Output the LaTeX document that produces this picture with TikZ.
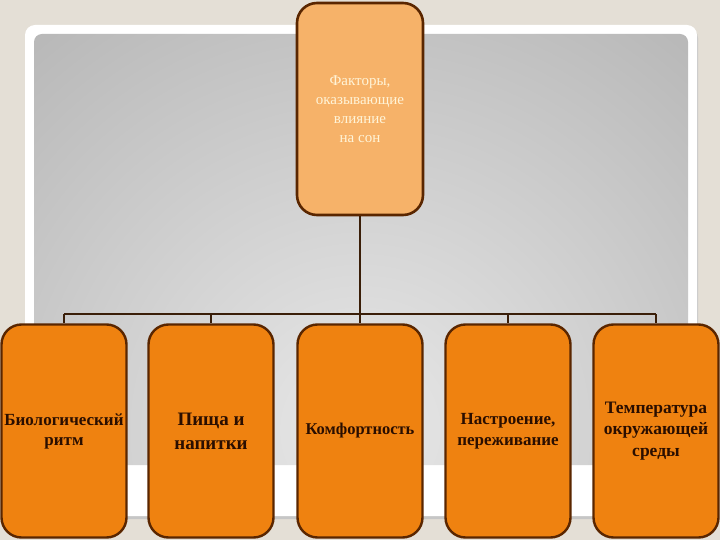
\documentclass[tikz,border=0pt]{standalone}
\usepackage{fontspec}
\setmainfont{Liberation Serif}
\begin{document}
\begin{tikzpicture}[x=1pt,y=-1pt,
  topbox/.style={draw=brownline, line width=2.6pt, fill=toporange, rounded corners=20pt,
    minimum width=126pt, minimum height=212pt, inner sep=0pt, align=center,
    text=creamtext, font=\fontsize{15}{19}\selectfont},
  leafbox/.style={draw=brownline, line width=2.4pt, fill=leaforange, rounded corners=20pt,
    minimum width=125pt, minimum height=213pt, inner sep=0pt, align=center,
    text=darktext},
  conn/.style={draw=connline, line width=1.8pt}]
\definecolor{bgbeige}{HTML}{E4DFD6}
\definecolor{brownline}{HTML}{5A2600}
\definecolor{toporange}{HTML}{F6B269}
\definecolor{leaforange}{HTML}{EF8210}
\definecolor{creamtext}{HTML}{FFF4D8}
\definecolor{darktext}{HTML}{2A0E00}
\definecolor{connline}{HTML}{3A1E08}
\definecolor{grayin}{HTML}{E8E8E8}
\definecolor{grayout}{HTML}{929292}
% background
\fill[bgbeige] (0,0) rectangle (720,540);
\useasboundingbox (0,0) rectangle (720,540);
\fill[gray!45] (26,28) [rounded corners=10pt] rectangle (698,519);
\fill[white, rounded corners=10pt] (25,25) rectangle (697,516);
\begin{scope}
  \clip[rounded corners=8pt] (34,34) rectangle (688,465);
  \shade[inner color=grayin, outer color=grayout] (360,430) circle (920);
\end{scope}
% top node
\node[topbox] (top) at (360,109) {Факторы,\\оказывающие\\влияние\\на сон};
% leaves
\node[leafbox, font=\bfseries\fontsize{17}{20}\selectfont] (b1) at (64,431) {Биологический\\ритм};
\node[leafbox, font=\bfseries\fontsize{19}{24}\selectfont] (b2) at (211,431) {Пища и\\напитки};
\node[leafbox, font=\bfseries\fontsize{16.5}{20}\selectfont] (b3) at (360,431) {Комфортность};
\node[leafbox, font=\bfseries\fontsize{17}{21}\selectfont] (b4) at (508,431) {Настроение,\\переживание};
\node[leafbox, font=\bfseries\fontsize{17.5}{21.5}\selectfont] (b5) at (656,431) {Температура\\окружающей\\среды};
% connectors
\coordinate (bus) at (360,314);
\draw[conn] (top.south) -- (top.south |- bus);
\draw[conn] (b1.north |- bus) -- (b5.north |- bus);
\foreach \b in {b1,b2,b3,b4,b5}{
  \draw[conn] (\b.north |- bus) -- (\b.north);
}
\end{tikzpicture}
\end{document}
